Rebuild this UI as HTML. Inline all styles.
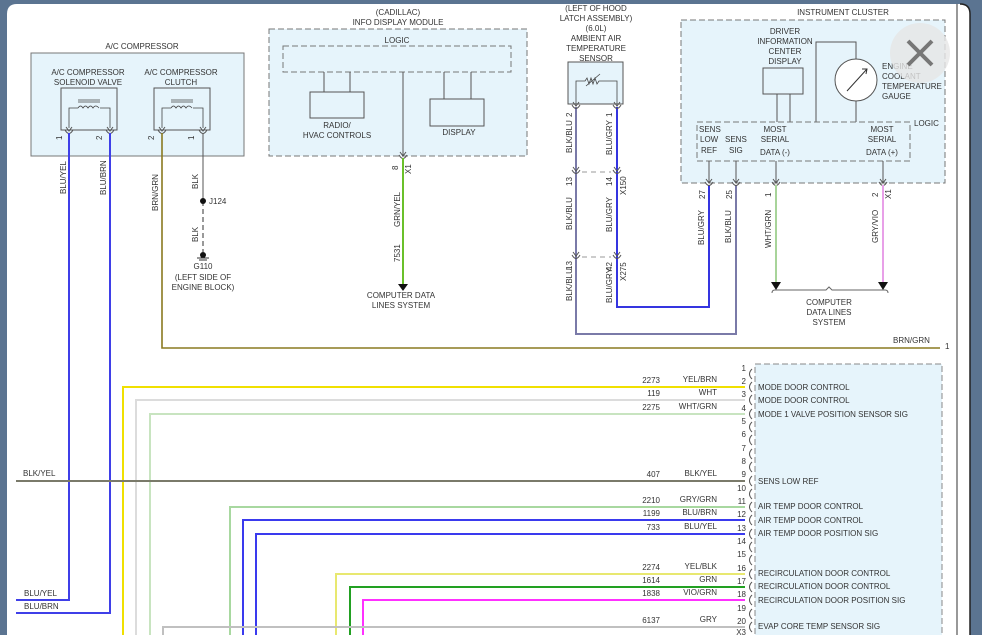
<!DOCTYPE html>
<html><head><meta charset="utf-8"><style>
html,body{margin:0;padding:0;background:#5b7491;width:982px;height:635px;overflow:hidden}
svg{display:block}
text{font-family:"Liberation Sans",sans-serif;font-size:8px;fill:#333}
</style></head><body>
<svg width="982" height="635" viewBox="0 0 982 635" xmlns="http://www.w3.org/2000/svg">
<defs>
<g id="pin"><path d="M-4,-3 Q0,4 4,-3" fill="none" stroke="#555" stroke-width="1"/><path d="M-3,-6 L0,-2 L3,-6" fill="none" stroke="#555" stroke-width="1"/></g>
<g id="cp"><path d="M3,-5 Q-2,0 3,5" fill="none" stroke="#555" stroke-width="1"/></g>
</defs>
<path d="M7,635 L7,14 Q7,4 17,4 L960,4 Q970,4 970,14 L970,635 Z" fill="#fff"/>
<path d="M960,4 Q970,4 970,14 L970,635" fill="none" stroke="#222" stroke-width="1.5"/>
<line x1="957" y1="4" x2="957" y2="635" stroke="#555" stroke-width="1.2"/>

<!-- A/C compressor -->
<text x="142" y="49" text-anchor="middle">A/C COMPRESSOR</text>
<rect x="31" y="53" width="213" height="103" fill="#e6f4fb" stroke="#777"/>
<text x="88" y="75" text-anchor="middle">A/C COMPRESSOR</text>
<text x="88" y="85" text-anchor="middle">SOLENOID VALVE</text>
<text x="181" y="75" text-anchor="middle">A/C COMPRESSOR</text>
<text x="181" y="85" text-anchor="middle">CLUTCH</text>
<rect x="61" y="88" width="56" height="42" fill="#e6f4fb" stroke="#555"/>
<rect x="154" y="88" width="56" height="42" fill="#e6f4fb" stroke="#555"/>
<path d="M69,128 L69,108 L78,108 M100,108 L110,108 L110,128 M78,108 q2.5,-4 5,0 q2.5,-4 5,0 q2.5,-4 5,0 q2.5,-4 6,0 M78,100 L100,100 M78,102 L100,102" fill="none" stroke="#444" stroke-width="0.8"/>
<path d="M162,128 L162,108 L171,108 M193,108 L203,108 L203,128 M171,108 q2.5,-4 5,0 q2.5,-4 5,0 q2.5,-4 5,0 q2.5,-4 6,0 M171,100 L193,100 M171,102 L193,102" fill="none" stroke="#444" stroke-width="0.8"/>
<use href="#pin" x="69" y="133"/><use href="#pin" x="110" y="133"/><use href="#pin" x="162" y="133"/><use href="#pin" x="203" y="133"/>
<text transform="translate(62,140) rotate(-90)" font-size="7">1</text>
<text transform="translate(102,140) rotate(-90)" font-size="7">2</text>
<text transform="translate(154,140) rotate(-90)" font-size="7">2</text>
<text transform="translate(194,140) rotate(-90)" font-size="7">1</text>

<!-- compressor wires -->
<polyline points="69,133 69,600 16,600" fill="none" stroke="#3f3fe8" stroke-width="2"/>
<polyline points="110,133 110,613 16,613" fill="none" stroke="#3f3fe8" stroke-width="2"/>
<polyline points="162,133 162,348 940,348" fill="none" stroke="#8a7a20" stroke-width="1.6"/>
<line x1="203" y1="133" x2="203" y2="201" stroke="#555" stroke-width="1"/>
<line x1="203" y1="201" x2="203" y2="252" stroke="#333" stroke-width="1" stroke-dasharray="5,3"/>
<circle cx="203" cy="201" r="3" fill="#111"/><circle cx="203" cy="255" r="3" fill="#111"/>
<path d="M197,258 L209,258 M199,260 L207,260" stroke="#333"/>
<text x="209" y="204">J124</text>
<text x="203" y="269" text-anchor="middle">G110</text>
<text x="203" y="280" text-anchor="middle">(LEFT SIDE OF</text>
<text x="203" y="290" text-anchor="middle">ENGINE BLOCK)</text>
<text transform="translate(66,194) rotate(-90)">BLU/YEL</text>
<text transform="translate(106,195) rotate(-90)">BLU/BRN</text>
<text transform="translate(158,211) rotate(-90)">BRN/GRN</text>
<text transform="translate(198,189) rotate(-90)">BLK</text>
<text transform="translate(198,242) rotate(-90)">BLK</text>

<!-- Info display module -->
<text x="398" y="15" text-anchor="middle">(CADILLAC)</text>
<text x="398" y="25" text-anchor="middle">INFO DISPLAY MODULE</text>
<rect x="269" y="29" width="258" height="127" fill="#e6f4fb" stroke="#777" stroke-dasharray="6,3"/>
<text x="397" y="43" text-anchor="middle">LOGIC</text>
<rect x="283" y="46" width="228" height="26" fill="#e6f4fb" stroke="#777" stroke-dasharray="6,3"/>
<path d="M324,72 V92 M350,72 V92 M444,72 V99 M471,72 V99" stroke="#555"/>
<rect x="310" y="92" width="54" height="26" fill="#e6f4fb" stroke="#555"/>
<rect x="430" y="99" width="54" height="27" fill="#e6f4fb" stroke="#555"/>
<text x="337" y="128" text-anchor="middle">RADIO/</text>
<text x="337" y="138" text-anchor="middle">HVAC CONTROLS</text>
<text x="459" y="135" text-anchor="middle">DISPLAY</text>
<line x1="403" y1="72" x2="403" y2="156" stroke="#555"/>
<use href="#pin" x="403" y="158"/>
<line x1="403" y1="158" x2="403" y2="284" stroke="#6ac02a" stroke-width="2"/>
<path d="M398,284 L408,284 L403,291 Z" fill="#111"/>
<text transform="translate(398,170) rotate(-90)" font-size="7">8</text>
<text transform="translate(411,174) rotate(-90)" font-size="7">X1</text>
<text transform="translate(400,227) rotate(-90)">GRN/YEL</text>
<text transform="translate(400,262) rotate(-90)">7531</text>
<text x="401" y="298" text-anchor="middle">COMPUTER DATA</text>
<text x="401" y="308" text-anchor="middle">LINES SYSTEM</text>

<!-- Ambient air temp sensor -->
<text x="596" y="11" text-anchor="middle">(LEFT OF HOOD</text>
<text x="596" y="21" text-anchor="middle">LATCH ASSEMBLY)</text>
<text x="596" y="31" text-anchor="middle">(6.0L)</text>
<text x="596" y="41" text-anchor="middle">AMBIENT AIR</text>
<text x="596" y="51" text-anchor="middle">TEMPERATURE</text>
<text x="596" y="61" text-anchor="middle">SENSOR</text>
<rect x="568" y="62" width="55" height="42" fill="#e6f4fb" stroke="#555"/>
<path d="M576,104 V81 H585 l2,-3 l2,6 l2,-6 l2,6 l2,-6 l2,6 l2,-3 H617 V104 M586,86 L600,74" fill="none" stroke="#444" stroke-width="0.8"/>
<polyline points="576,107 576,334 736,334 736,185" fill="none" stroke="#7a7aa8" stroke-width="2"/>
<polyline points="617,107 617,307 709,307 709,185" fill="none" stroke="#3535e0" stroke-width="2"/>
<use href="#pin" x="576" y="108"/><use href="#pin" x="617" y="108"/>
<use href="#pin" x="576" y="173"/><use href="#pin" x="617" y="173"/>
<use href="#pin" x="576" y="258"/><use href="#pin" x="617" y="258"/>
<line x1="582" y1="172" x2="611" y2="172" stroke="#999" stroke-dasharray="5,4"/>
<line x1="582" y1="257" x2="611" y2="257" stroke="#999" stroke-dasharray="5,4"/>
<text transform="translate(572,117) rotate(-90)" font-size="7">2</text>
<text transform="translate(612,117) rotate(-90)" font-size="7">1</text>
<text transform="translate(572,186) rotate(-90)" font-size="7">13</text>
<text transform="translate(612,186) rotate(-90)" font-size="7">14</text>
<text transform="translate(626,195) rotate(-90)" font-size="7">X150</text>
<text transform="translate(572,270) rotate(-90)" font-size="7">13</text>
<text transform="translate(612,271) rotate(-90)" font-size="7">42</text>
<text transform="translate(626,281) rotate(-90)" font-size="7">X275</text>
<text transform="translate(572,153) rotate(-90)">BLK/BLU</text>
<text transform="translate(612,155) rotate(-90)">BLU/GRY</text>
<text transform="translate(572,230) rotate(-90)">BLK/BLU</text>
<text transform="translate(612,232) rotate(-90)">BLU/GRY</text>
<text transform="translate(572,301) rotate(-90)">BLK/BLU</text>
<text transform="translate(612,303) rotate(-90)">BLU/GRY</text>

<!-- Instrument cluster -->
<text x="843" y="15" text-anchor="middle">INSTRUMENT CLUSTER</text>
<rect x="681" y="20" width="264" height="163" fill="#e6f4fb" stroke="#777" stroke-dasharray="6,3"/>
<text x="785" y="34" text-anchor="middle">DRIVER</text>
<text x="785" y="44" text-anchor="middle">INFORMATION</text>
<text x="785" y="54" text-anchor="middle">CENTER</text>
<text x="785" y="64" text-anchor="middle">DISPLAY</text>
<rect x="763" y="68" width="40" height="26" fill="#e6f4fb" stroke="#555"/>
<circle cx="856" cy="80" r="21" fill="#fff" stroke="#555"/>
<path d="M847,91 L867,69 M862,69 L867,69 L866,74" fill="none" stroke="#333"/>
<path d="M777,94 V122 M790,94 V122 M816,122 V42 H856 V59 M856,101 V122" fill="none" stroke="#555"/>
<text x="882" y="69">ENGINE</text>
<text x="882" y="79">COOLANT</text>
<text x="882" y="89">TEMPERATURE</text>
<text x="882" y="99">GAUGE</text>
<rect x="697" y="122" width="213" height="39" fill="#e6f4fb" stroke="#777" stroke-dasharray="6,3"/>
<text x="914" y="126">LOGIC</text>
<text x="699" y="132">SENS</text><text x="700" y="142">LOW</text><text x="701" y="153">REF</text>
<text x="725" y="142">SENS</text><text x="729" y="153">SIG</text>
<text x="775" y="132" text-anchor="middle">MOST</text><text x="775" y="142" text-anchor="middle">SERIAL</text><text x="775" y="155" text-anchor="middle">DATA (-)</text>
<text x="882" y="132" text-anchor="middle">MOST</text><text x="882" y="142" text-anchor="middle">SERIAL</text><text x="882" y="155" text-anchor="middle">DATA (+)</text>
<path d="M709,161 V183 M736,161 V183 M776,161 V183 M883,161 V183" stroke="#555"/>
<use href="#pin" x="709" y="185"/><use href="#pin" x="736" y="185"/><use href="#pin" x="776" y="185"/><use href="#pin" x="883" y="185"/>
<line x1="776" y1="185" x2="776" y2="284" stroke="#a8d49a" stroke-width="2"/>
<line x1="883" y1="185" x2="883" y2="284" stroke="#e8a0e8" stroke-width="2"/>
<path d="M771,282 L781,282 L776,290 Z M878,282 L888,282 L883,290 Z" fill="#111"/>
<path d="M772,293 Q772,290 775,290 H826 L829,287 L832,290 H885 Q888,290 888,293" fill="none" stroke="#666"/>
<text x="829" y="305" text-anchor="middle">COMPUTER</text>
<text x="829" y="315" text-anchor="middle">DATA LINES</text>
<text x="829" y="325" text-anchor="middle">SYSTEM</text>
<text transform="translate(705,199) rotate(-90)" font-size="7">27</text>
<text transform="translate(732,199) rotate(-90)" font-size="7">25</text>
<text transform="translate(771,197) rotate(-90)" font-size="7">1</text>
<text transform="translate(878,197) rotate(-90)" font-size="7">2</text>
<text transform="translate(891,199) rotate(-90)" font-size="7">X1</text>
<text transform="translate(704,245) rotate(-90)">BLU/GRY</text>
<text transform="translate(731,243) rotate(-90)">BLK/BLU</text>
<text transform="translate(771,248) rotate(-90)">WHT/GRN</text>
<text transform="translate(878,243) rotate(-90)">GRY/VIO</text>
<text x="893" y="343">BRN/GRN</text>
<text x="945" y="349" font-size="7">1</text>

<!-- Close button -->
<circle cx="920" cy="53" r="30" fill="#e6e6e6" opacity="0.8"/>
<path d="M908,41 L932,65 M932,41 L908,65" stroke="#777" stroke-width="4"/>

<!-- HVAC module bottom -->
<rect x="755" y="364" width="187" height="290" fill="#e6f4fb" stroke="#888" stroke-dasharray="6,3"/>
<g fill="none" stroke-width="2">
<polyline points="123,635 123,387 745,387" stroke="#f0e000"/>
<polyline points="136,635 136,400 745,400" stroke="#dcdcdc"/>
<polyline points="150,635 150,414 745,414" stroke="#c8e4c0"/>
<line x1="16" y1="481" x2="745" y2="481" stroke="#7a7a6a"/>
<polyline points="230,635 230,507 745,507" stroke="#a8d8a0"/>
<polyline points="243,635 243,520 745,520" stroke="#3a3aee"/>
<polyline points="256,635 256,534 745,534" stroke="#3a3aee"/>
<polyline points="336,635 336,574 745,574" stroke="#e8e870"/>
<polyline points="350,635 350,587 745,587" stroke="#22a022"/>
<polyline points="363,635 363,600 745,600" stroke="#ff30ff"/>
<polyline points="163,635 163,627 745,627" stroke="#c0c0c0"/>
</g>
<text x="23" y="476">BLK/YEL</text>
<text x="24" y="596">BLU/YEL</text>
<text x="24" y="609">BLU/BRN</text>
<g font-size="7.5">
<text x="660" y="383" text-anchor="end">2273</text><text x="717" y="382" text-anchor="end">YEL/BRN</text>
<text x="660" y="396" text-anchor="end">119</text><text x="717" y="395" text-anchor="end">WHT</text>
<text x="660" y="410" text-anchor="end">2275</text><text x="717" y="409" text-anchor="end">WHT/GRN</text>
<text x="660" y="477" text-anchor="end">407</text><text x="717" y="476" text-anchor="end">BLK/YEL</text>
<text x="660" y="503" text-anchor="end">2210</text><text x="717" y="502" text-anchor="end">GRY/GRN</text>
<text x="660" y="516" text-anchor="end">1199</text><text x="717" y="515" text-anchor="end">BLU/BRN</text>
<text x="660" y="530" text-anchor="end">733</text><text x="717" y="529" text-anchor="end">BLU/YEL</text>
<text x="660" y="570" text-anchor="end">2274</text><text x="717" y="569" text-anchor="end">YEL/BLK</text>
<text x="660" y="583" text-anchor="end">1614</text><text x="717" y="582" text-anchor="end">GRN</text>
<text x="660" y="596" text-anchor="end">1838</text><text x="717" y="595" text-anchor="end">VIO/GRN</text>
<text x="660" y="623" text-anchor="end">6137</text><text x="717" y="622" text-anchor="end">GRY</text>
</g>
<g font-size="7.5" text-anchor="end">
<text x="746" y="371">1</text><text x="746" y="384">2</text><text x="746" y="397">3</text><text x="746" y="411">4</text>
<text x="746" y="424">5</text><text x="746" y="437">6</text><text x="746" y="451">7</text><text x="746" y="464">8</text>
<text x="746" y="477">9</text><text x="746" y="491">10</text><text x="746" y="504">11</text><text x="746" y="517">12</text>
<text x="746" y="531">13</text><text x="746" y="544">14</text><text x="746" y="557">15</text><text x="746" y="571">16</text>
<text x="746" y="584">17</text><text x="746" y="597">18</text><text x="746" y="611">19</text><text x="746" y="624">20</text>
<text x="746" y="635">X3</text>
</g>
<g>
<use href="#cp" x="749" y="374"/><use href="#cp" x="749" y="387"/><use href="#cp" x="749" y="400"/><use href="#cp" x="749" y="414"/>
<use href="#cp" x="749" y="427"/><use href="#cp" x="749" y="440"/><use href="#cp" x="749" y="454"/><use href="#cp" x="749" y="467"/>
<use href="#cp" x="749" y="481"/><use href="#cp" x="749" y="494"/><use href="#cp" x="749" y="507"/><use href="#cp" x="749" y="520"/>
<use href="#cp" x="749" y="534"/><use href="#cp" x="749" y="547"/><use href="#cp" x="749" y="560"/><use href="#cp" x="749" y="574"/>
<use href="#cp" x="749" y="587"/><use href="#cp" x="749" y="600"/><use href="#cp" x="749" y="614"/><use href="#cp" x="749" y="627"/>
</g>
<g font-size="7.5">
<text x="758" y="390">MODE DOOR CONTROL</text>
<text x="758" y="403">MODE DOOR CONTROL</text>
<text x="758" y="417">MODE 1 VALVE POSITION SENSOR SIG</text>
<text x="758" y="484">SENS LOW REF</text>
<text x="758" y="509">AIR TEMP DOOR CONTROL</text>
<text x="758" y="523">AIR TEMP DOOR CONTROL</text>
<text x="758" y="536">AIR TEMP DOOR POSITION SIG</text>
<text x="758" y="576">RECIRCULATION DOOR CONTROL</text>
<text x="758" y="589">RECIRCULATION DOOR CONTROL</text>
<text x="758" y="603">RECIRCULATION DOOR POSITION SIG</text>
<text x="758" y="629">EVAP CORE TEMP SENSOR SIG</text>
</g>
</svg>
</body></html>
